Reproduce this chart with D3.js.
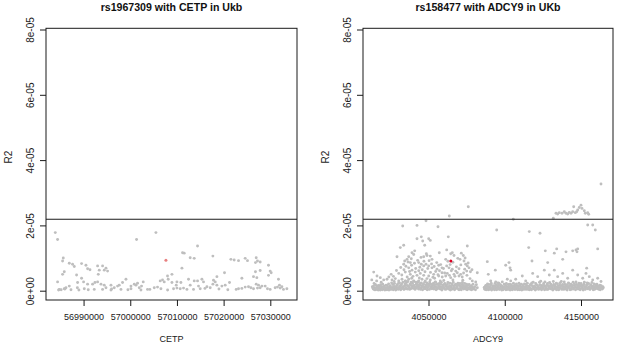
<!DOCTYPE html>
<html>
<head>
<meta charset="utf-8">
<script src="https://cdn.jsdelivr.net/npm/d3@7"></script>
<style>
html,body{margin:0;padding:0;background:#fff;}
svg{display:block;}
text{font-family:"Liberation Sans",Arial,Helvetica,sans-serif;}
</style>
</head>
<body>
<svg id="chart" width="617" height="347"></svg>
<script>
// ---------------- DATA ----------------
const titles = ["rs1967309 with CETP in Ukb", "rs158477 with ADCY9 in UKb"];
const xLabels = ["CETP", "ADCY9"];
const yLabel = "R2";

const yTickValues = [0, 20, 40, 60, 80];            // R2 x 1e-6
const yTickLabels = ["0e+00", "2e-05", "4e-05", "6e-05", "8e-05"];
const thresholdR2 = 21.87;                           // R2 x 1e-6 (horizontal line)

const cetpTicks = [56990000, 57000000, 57010000, 57020000, 57030000];
const adcyTicks = [4050000, 4100000, 4150000];

// CETP region: position (bp) and R2 (x 1e-6)
const cetpPos = [
56983940,56984430,57001350,57005500,56985650,56985500,56986940,56987640,56988010,56989570,
56990510,56990860,56991370,56993000,56994070,56994800,56994430,56993360,56995140,56985870,
56985500,56988500,56989570,56993150,56984430,56988720,56990000,56990860,56991930,56992440,
56993000,56993730,56994430,56994800,56995870,56996570,56997280,56997640,56998350,56999080,
57000150,57000860,57001220,57001560,57001930,57002420,57002780,57005140,57005840,57006420,
57006910,57007280,57008130,57007980,56984800,56985870,56986230,56986940,56988670,56990150,
56992290,56994070,56995870,56998010,57000150,57002290,57003700,57006570,56984650,56985200,
56986000,56987300,56989000,56991000,56996000,56999500,57004200,
57014410,57011200,57011560,57012840,57013700,57017700,57021560,57022260,57023190,57024620,
57025110,57026980,57027250,57027830,57026820,57029610,57011070,57027830,57026820,57029970,
57030190,57029610,57020190,57026400,57027120,57008930,57008930,57018560,57023910,57031750,
57012480,57013700,57014410,57015350,57015690,57017830,57018200,57017700,57018560,57019630,
57020340,57021260,57010000,57010850,57009850,57012840,57014620,57016420,57017130,57009270,
57010000,57010700,57011410,57012140,57013550,57014990,57022690,57023190,57023910,57024620,
57025330,57025840,57026400,57027250,57027830,57028200,57028900,57029390,57029970,57031040,
57031540,57032110,57032820,57033550,57026980,57027470,57031960,57032480,57019000,57020900,
57016000,57008000
];
const cetpR2 = [
17.8,15.7,15.7,17.8,10.0,9.1,8.4,8.1,7.4,8.3,
7.8,6.7,6.4,7.6,7.6,6.9,6.3,6.3,6.0,5.8,
5.0,4.8,3.8,5.0,2.7,2.5,2.7,2.0,2.0,2.5,
2.7,2.0,1.7,0.9,1.7,0.9,1.4,1.7,2.5,3.5,
1.4,2.0,1.7,2.3,0.9,1.4,2.7,0.9,1.1,3.0,
3.3,2.7,3.5,4.5,0.4,0.6,0.9,1.4,0.9,0.6,
0.4,0.4,0.2,0.4,0.6,0.2,0.4,0.6,0.2,0.3,
0.5,0.3,0.2,0.3,0.5,0.3,0.4,
13.7,11.6,11.5,10.1,9.9,10.6,9.6,9.4,9.2,9.9,
9.2,10.1,9.1,8.8,8.6,7.8,6.9,6.2,5.8,6.0,
5.5,4.7,5.5,4.3,4.0,5.0,2.5,4.3,3.8,3.5,
3.5,3.0,3.0,3.5,2.7,3.2,2.7,2.0,1.7,1.4,
1.7,2.5,2.7,2.5,1.7,1.7,1.4,1.2,0.9,0.6,
0.8,0.6,0.8,0.4,0.4,0.6,0.4,0.6,0.7,1.1,
1.2,0.9,0.6,0.8,0.9,1.4,1.4,0.6,0.4,0.9,
1.1,0.8,0.4,0.6,2.0,1.7,1.7,1.2,0.5,0.3,
0.7,0.2
];
const cetpLeadPos = [57007640];
const cetpLeadR2 = [9.3];

// ADCY9 region, scattered SNPs: position (bp) and R2 (x 1e-6)
const adcyPos = [
4076100,4063640,4048360,4105600,4131830,
4133600,4134720,4135770,4137540,4139050,4140160,4141280,4142320,4143440,4144550,4145210,4146260,4147180,4147830,4148880,4149990,4150650,4152160,4152810,4154390,4155040,
4163110,
4033080,4042460,4056230,4094720,4116100,4123110,4154390,4157670,4159370,
4042460,4045280,4046200,4050130,4051180,4047510,4033740,4031510,4040950,4039180,4040300,4029350,4037020,4038720,4035900,4034390,4036560,4038070,4033740,4046850,4049020,4051180,4052290,4057080,4043570,4045280,4046850,4048360,4050130,4052290,4055570,4056690,4058850,4037020,4039180,4041340,4034790,4038070,4042460,4044620,4046850,4050130,4053410,4056690,4058850,4014070,4016230,4018400,4020620,4022790,4026070,4028230,4030460,4032620,4034790,4037020,4040300,4043570,4045740,4047900,4051180,4054460,4057740,4012800,
4075440,4062980,4061930,4064560,4065610,4066720,4071510,4072820,4070650,4061280,4073280,4074390,4075440,4076560,4073740,4075050,4088560,4100620,4102780,4103440,4103900,4082000,4089210,4063440,4065610,4067840,4068880,4062330,4066720,4070000,4071110,4064560,4061280,4077210,4078720,4080950,4090780,4094060,4096230,4098390,4101670,4103900,4107180,4109340,4111510,4113730,4093800,
4115700,4126590,4132490,4134060,4140160,4144550,4146720,4147830,4147370,4160940,4117860,4128160,4138000,4118320,4121600,4125930,4129210,4132490,4134720,4138000,4141270,4144550,4147830,4151110,4153270,4155440,4157670,4160940,4163110,4153730,
4024000,4025500,4027000,4029000,4030500,4031800,4032500,4033900,4035200,4036000,4037600,4038900,4039800,4040800,4041600,4042900,4043600,4044300,4045100,4045900,4047000,4047700,4048600,4049500,4050400,4051300,4052000,4052900,4053700,4054700,4055400,4056200,4057200,4058000,4059000,4059800,4060600,4061900,4062700,4063700,4064200,4065000,4066000,4067300,4068300,4069200,4070000,4071200,4072100,4073000,4074000,4075200,4076000,4077500,4078500,4027500,4031000,4035000,4039000,4044000,4049000,4054000,4060000,4066000,4072500,4019000,4016000
];
const adcyR2 = [
25.7,22.9,21.4,21.9,22.2,
23.7,23.5,23.9,23.7,24.2,23.7,23.5,24.0,23.7,24.2,25.7,23.9,24.2,24.7,25.5,26.2,25.2,24.5,23.7,23.9,23.4,
32.7,
19.8,20.0,19.6,18.6,18.1,17.6,20.1,20.1,18.6,
15.9,16.5,15.2,15.9,15.4,13.9,13.9,13.2,12.2,11.6,11.1,10.4,10.4,9.8,9.6,9.1,8.8,8.6,8.1,10.4,10.8,10.6,9.6,11.6,8.6,8.1,7.6,8.1,7.6,7.0,6.6,7.8,7.0,7.0,6.3,5.7,5.7,5.0,4.7,5.3,4.7,4.5,5.0,4.5,5.5,5.7,4.5,4.0,3.3,3.5,3.3,3.7,3.0,3.5,3.0,3.5,3.0,3.0,3.5,3.0,3.3,2.7,3.0,3.3,
13.7,16.5,12.5,11.3,11.6,10.8,11.5,10.8,9.6,9.6,9.1,8.1,7.6,7.0,6.6,6.0,8.9,7.8,8.6,7.0,6.3,5.5,5.0,7.0,6.6,6.0,5.5,5.3,5.0,4.5,5.0,4.0,4.5,3.7,3.0,2.7,3.0,2.7,2.3,2.7,3.5,3.0,3.5,2.3,4.5,3.0,6.3,
13.2,12.2,11.5,12.8,11.9,12.2,12.5,12.8,11.9,12.8,9.1,8.6,9.6,5.3,4.3,6.3,4.8,6.3,4.3,5.3,3.8,6.3,4.8,3.8,5.3,4.3,3.3,3.8,2.8,6.9,
4.2,5.0,4.4,6.2,5.3,7.1,4.8,6.4,7.5,4.2,5.9,7.8,4.4,8.4,6.8,9.3,6.1,7.2,10.2,6.4,9.0,5.8,11.3,6.8,9.2,5.6,8.2,4.1,7.4,5.9,8.6,4.9,6.1,8.0,4.2,6.8,5.4,7.6,9.0,4.7,8.0,6.1,8.7,4.4,7.3,9.9,6.7,7.9,4.2,5.4,10.0,4.7,8.5,5.8,6.4,2.8,2.4,2.9,3.8,3.9,3.7,3.8,3.1,3.3,3.2,2.6,3.0
];

// ADCY9 region, low-R2 band near zero: position (bp) and R2 (x 1e-6)
const adcyBandPos = [
4013200,4013800,4014300,4014900,4015400,4015900,4016500,4017000,4017500,4018100,4018600,4019200,4019700,4020300,4020800,4021400,4021900,4022500,4023000,4023600,4024100,4024700,4025200,4025800,4026300,4026900,4027400,4028000,4028500,4029100,4029600,4030200,4030700,4031300,4031800,4032400,4032900,4033500,4034000,4034600,4035100,4035700,4036200,4036800,4037300,4037900,4038400,4039000,4039500,4040100,4040600,4041200,4041700,4042300,4042800,4043400,4043900,4044500,4045000,4045600,4046100,4046700,4047200,4047800,4048300,4048900,4049400,4050000,4050600,4051100,4051700,4052200,4052800,4053300,4053900,4054400,4055000,4055500,4056100,4056600,4057200,4057700,4058300,4058800,4059400,4059900,4060500,4061000,4061600,4062100,4062700,4063200,4063800,4064300,4064900,4065400,4066000,4066500,4067100,4067600,4068200,4068700,4069300,4069800,4070400,4070900,4071500,4072000,4072600,4073100,4073700,4074200,4074800,4075300,4075900,4076400,4077000,4077500,4078100,4078600,4079200,4079700,4080300,4080800,4081400,4082000,
4086500,4087000,4087600,4088100,4088700,4089200,4089800,4090300,4090900,4091400,4092000,4092500,4093100,4093600,4094200,4094700,4095300,4095800,4096400,4096900,4097500,4098000,4098600,4099100,4099700,4100200,4100800,4101300,4101900,4102400,4103000,4103500,4104100,4104600,4105200,4105700,4106300,4106800,4107400,4107900,4108500,4109000,4109600,4110100,4110700,4111200,4111800,4112300,4112900,4113400,4114000,4114500,4115100,4115600,4116200,4116700,4117300,4117800,4118400,4118900,4119500,4120000,4120600,4121100,4121700,4122200,4122800,4123300,4123900,4124400,4125000,4125500,4126100,4126600,4127200,4127700,4128300,4128800,4129400,4129900,4130500,4131000,4131600,4132100,4132700,4133200,4133800,4134300,4134900,4135400,4136000,4136500,4137100,4137600,4138200,4138700,4139300,4139800,4140400,4140900,4141500,4142000,4142600,4143100,4143700,4144200,4144800,4145300,4145900,4146400,4147000,4147500,4148100,4148600,4149200,4149700,4150300,4150800,4151400,4151900,4152500,4153000,4153600,4154100,4154700,4155200,4155800,4156300,4156900,4157400,4158000,4158500,4159100,4159600,4160200,4160700,4161300,4161800,4162400,4162900,4163500,4164000,4164600,
4013450,4014050,4014600,4015150,4015650,4016200,4016750,4017250,4017800,4018350,4018900,4019450,4020000,4020550,4021100,4021650,4022200,4022750,4023300,4023850,4024400,4024950,4025500,4026050,4026600,4027150,4027700,4028250,4028800,4029350,4029900,4030450,4031000,4031550,4032100,4032650,4033200,4033750,4034300,4034850,4035400,4035950,4036500,4037050,4037600,4038150,4038700,4039250,4039800,4040350,4040900,4041450,4042000,4042550,4043100,4043650,4044200,4044750,4045300,4045850,4046400,4046950,4047500,4048050,4048600,4049150,4049700,4050250,4050800,4051350,4051900,4052450,4053000,4053550,4054100,4054650,4055200,4055750,4056300,4056850,4057400,4057950,4058500,4059050,4059600,4060150,4060700,4061250,4061800,4062350,4062900,4063450,4064000,4064550,4065100,4065650,4066200,4066750,4067300,4067850,4068400,4068950,4069500,4070050,4070600,4071150,4071700,4072250,4072800,4073350,4073900,4074450,4075000,4075550,4076100,4076650,4077200,4077750,4078300,4078850,4079400,
4086750,4087300,4087850,4088400,4088950,4089500,4090050,4090600,4091150,4091700,4092250,4092800,4093350,4093900,4094450,4095000,4095550,4096100,4096650,4097200,4097750,4098300,4098850,4099400,4099950,4100500,4101050,4101600,4102150,4102700,4103250,4103800,4104350,4104900,4105450,4106000,4106550,4107100,4107650,4108200,4108750,4109300,4109850,4110400,4110950,4111500,4112050,4112600,4113150,4113700,4114250,4114800,4115350,4115900,4116450,4117000,4117550,4118100,4118650,4119200,4119750,4120300,4120850,4121400,4121950,4122500,4123050,4123600,4124150,4124700,4125250,4125800,4126350,4126900,4127450,4128000,4128550,4129100,4129650,4130200,4130750,4131300,4131850,4132400,4132950,4133500,4134050,4134600,4135150,4135700,4136250,4136800,4137350,4137900,4138450,4139000,4139550,4140100,4140650,4141200,4141750,4142300,4142850,4143400,4143950,4144500,4145050,4145600,4146150,4146700,4147250,4147800,4148350,4148900,4149450,4150000,4150550,4151100,4151650,4152200,4152750,4153300,4153850,4154400,4154950,4155500,4156050,4156600,4157150,4157700,4158250,4158800,4159350,4159900,4160450,4161000,4161550,4162100,4162650,4163200,4163750,4164300
];
const adcyBandR2 = [
1.2,0.5,2.2,0.8,0.3,1.5,0.6,0.2,1.0,0.4,1.8,0.7,0.3,1.2,0.5,0.2,0.9,0.4,1.6,0.6,0.2,1.1,0.5,2.4,0.8,0.3,1.3,0.6,0.2,1.0,1.9,0.4,0.9,1.5,0.3,2.1,0.7,1.2,0.4,1.8,0.9,2.5,0.5,1.4,0.8,2.0,0.6,1.3,2.3,0.7,1.6,0.4,2.6,1.0,1.9,0.5,1.2,2.2,0.8,1.5,0.3,2.0,1.1,0.6,1.7,2.4,0.9,1.3,0.4,2.1,1.0,0.6,1.6,2.3,0.8,1.2,0.3,1.9,0.7,1.4,2.2,0.5,1.1,0.2,1.7,0.8,2.0,0.4,1.3,0.9,2.5,0.5,1.5,0.2,1.0,2.1,0.6,1.4,0.3,1.8,0.7,1.2,2.3,0.4,1.6,0.8,0.3,1.9,1.1,0.5,2.2,0.9,1.4,0.3,1.7,0.6,1.1,0.4,1.5,0.8,2.0,0.5,1.2,0.3,1.8,0.9,
1.0,0.4,1.6,0.7,2.1,0.3,1.2,0.6,1.8,0.2,1.0,0.5,1.4,2.2,0.8,0.3,1.1,1.7,0.4,0.9,1.5,0.2,1.2,0.6,2.0,0.8,0.3,1.3,0.5,1.9,0.9,0.2,1.4,0.6,1.0,2.3,0.4,1.2,0.7,1.6,0.3,1.1,0.5,1.8,0.8,0.2,1.3,0.6,2.1,0.9,0.4,1.5,0.7,1.0,0.3,1.7,0.5,2.4,1.1,0.6,1.4,0.2,1.9,0.8,1.2,0.4,2.6,1.0,0.5,1.6,0.9,2.2,0.3,1.3,0.7,1.8,0.4,1.1,2.5,0.6,1.5,0.9,0.2,1.9,1.2,0.5,2.3,0.8,1.4,0.3,1.7,1.0,2.8,0.6,1.3,0.4,2.0,0.9,1.5,0.2,1.1,2.2,0.7,1.6,0.4,1.2,2.6,0.8,1.4,0.3,1.9,1.0,0.5,2.3,1.3,0.6,1.7,0.9,0.2,2.0,1.1,0.6,1.5,2.4,0.8,1.2,0.4,1.8,0.9,1.4,0.3,2.1,1.0,0.6,1.6,0.8,1.2,0.4,1.7,0.7,1.1,0.5,0.9,
0.8,1.4,0.3,1.9,0.7,1.1,0.4,1.6,0.9,0.2,1.3,0.5,2.0,0.9,1.4,0.6,1.7,0.3,1.1,2.1,0.7,1.5,0.4,1.0,1.9,0.6,2.2,1.2,0.5,1.6,0.8,2.4,1.2,0.6,1.7,1.0,2.6,0.5,1.4,2.2,0.6,1.6,2.8,1.1,0.4,1.8,2.6,0.9,1.5,2.9,1.2,0.7,2.0,1.4,2.7,0.9,1.7,0.4,2.4,1.2,1.8,0.6,2.6,1.0,1.5,0.3,2.0,1.7,2.7,0.8,1.4,2.0,1.0,0.5,1.8,2.6,1.0,0.6,2.1,1.3,0.8,1.9,2.5,0.6,1.3,0.9,2.2,1.6,0.5,1.9,1.1,0.7,2.3,1.3,0.4,1.7,2.6,1.0,0.6,2.0,1.4,0.8,1.7,0.3,2.2,1.3,0.7,2.5,1.6,0.9,1.3,0.5,2.0,1.0,0.6,1.9,0.9,1.3,0.3,1.1,0.7,
0.6,1.3,0.3,1.5,0.8,1.9,0.4,1.1,2.3,0.6,1.5,0.9,0.3,1.3,1.8,0.6,2.4,1.0,0.5,1.8,0.8,1.4,0.3,1.1,0.6,1.6,2.2,0.9,0.4,1.3,2.0,0.7,1.8,0.3,1.4,0.8,1.7,0.4,2.1,1.0,0.6,1.5,0.3,1.2,2.0,0.7,1.6,0.4,1.1,1.9,0.8,2.3,0.4,1.4,0.9,2.0,0.3,1.5,2.6,0.8,1.1,2.2,0.5,1.6,1.0,0.6,1.8,2.9,0.3,1.2,0.7,1.6,2.7,1.0,0.4,2.2,1.5,0.8,1.3,2.0,0.5,1.4,2.8,0.7,1.7,1.1,0.3,2.1,1.2,0.6,2.4,1.5,0.4,1.9,0.8,2.7,1.3,0.5,1.8,0.9,2.4,1.4,0.3,2.0,1.0,1.6,0.5,2.1,1.1,2.7,0.6,1.5,0.9,1.9,0.3,2.2,1.3,0.7,1.6,2.6,0.4,1.1,1.9,0.6,2.2,1.0,0.5,1.6,2.5,0.8,1.3,0.4,1.8,1.1,2.0,0.6,1.4,0.9,0.3,1.5,0.8,1.2
];
const adcyLeadPos = [4064650];
const adcyLeadR2 = [9.1];

// ---------------- DRAW ----------------
const svg = d3.select("#chart");
const plotTop = 28.3, plotBottom = 300;
const yDomain = [-2.85, 80.37];   // x 1e-6 (R-style padded range)

const panels = [
  {left: 46, right: 297, xDomain: [56981950, 57035720], ticks: cetpTicks,
   pos: cetpPos, r2: cetpR2, leadPos: cetpLeadPos, leadR2: cetpLeadR2, leadColor: "#e88080",
   title: titles[0], xlab: xLabels[0]},
  {left: 363, right: 613, xDomain: [4007050, 4170980], ticks: adcyTicks,
   pos: adcyBandPos.concat(adcyPos), r2: adcyBandR2.concat(adcyR2),
   leadPos: adcyLeadPos, leadR2: adcyLeadR2, leadColor: "#dd0022",
   title: titles[1], xlab: xLabels[1]}
];

const ink = "#1a1a1a";
const xTickFont = 9;
const yTickFont = 10;

panels.forEach(p => {
  const x = d3.scaleLinear().domain(p.xDomain).range([p.left, p.right]);
  const y = d3.scaleLinear().domain(yDomain).range([plotBottom, plotTop]);
  const g = svg.append("g");

  g.append("g").selectAll("circle")
    .data(d3.range(p.pos.length).filter(i => p.pos[i] >= p.xDomain[0] && p.pos[i] <= p.xDomain[1]))
    .join("circle")
    .attr("cx", i => x(p.pos[i]))
    .attr("cy", i => y(p.r2[i]))
    .attr("r", 1.45)
    .attr("fill", "#bebebe");

  g.append("g").selectAll("circle")
    .data(d3.range(p.leadPos.length))
    .join("circle")
    .attr("cx", i => x(p.leadPos[i]))
    .attr("cy", i => y(p.leadR2[i]))
    .attr("r", 1.5)
    .attr("fill", p.leadColor);

  g.append("line")
    .attr("x1", p.left).attr("x2", p.right)
    .attr("y1", y(thresholdR2)).attr("y2", y(thresholdR2))
    .attr("stroke", ink).attr("stroke-width", 1.1);

  g.append("rect")
    .attr("x", p.left).attr("y", plotTop)
    .attr("width", p.right - p.left).attr("height", plotBottom - plotTop)
    .attr("fill", "none").attr("stroke", ink).attr("stroke-width", 1);

  const xa = g.append("g").attr("transform", `translate(0,${plotBottom})`)
    .call(d3.axisBottom(x).tickValues(p.ticks).tickFormat(d3.format("d"))
      .tickSize(6).tickSizeOuter(0).tickPadding(7.5));
  xa.select(".domain").remove();
  xa.selectAll("line").attr("stroke", ink);
  xa.selectAll("text").attr("fill", ink).style("font-size", xTickFont + "px").attr("font-family", null);

  const ya = g.append("g").attr("transform", `translate(${p.left},0)`)
    .call(d3.axisLeft(y).tickValues(yTickValues).tickFormat((d, i) => yTickLabels[i])
      .tickSize(6).tickSizeOuter(0));
  ya.select(".domain").remove();
  ya.selectAll("line").attr("stroke", ink);
  ya.selectAll("text")
    .attr("fill", ink).attr("font-family", null)
    .style("font-size", yTickFont + "px")
    .attr("transform", "rotate(-90)")
    .attr("x", 0).attr("y", -12.3).attr("dy", null)
    .style("text-anchor", "middle");

  g.append("text")
    .attr("x", (p.left + p.right) / 2).attr("y", 11)
    .attr("text-anchor", "middle")
    .style("font-size", "10.6px").style("font-weight", "bold")
    .attr("fill", "#111")
    .text(p.title);

  g.append("text")
    .attr("x", (p.left + p.right) / 2).attr("y", 341.5)
    .attr("text-anchor", "middle")
    .style("font-size", xTickFont + "px").attr("fill", ink)
    .text(p.xlab);

  g.append("text")
    .attr("transform", `translate(${p.left - 34.5},157) rotate(-90)`)
    .attr("text-anchor", "middle")
    .style("font-size", yTickFont + "px").attr("fill", ink)
    .text(yLabel);
});
</script>
</body>
</html>
